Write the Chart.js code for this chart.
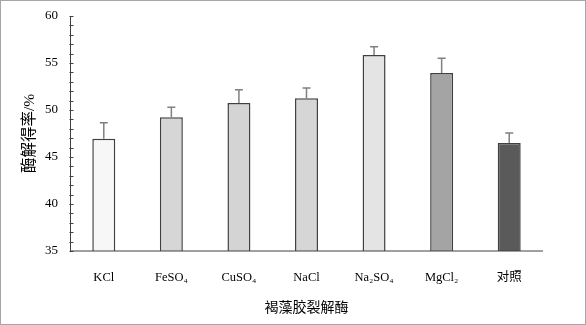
<!DOCTYPE html>
<html><head><meta charset="utf-8">
<script src="https://cdn.jsdelivr.net/npm/chart.js@4/dist/chart.umd.min.js"></script>
<style>html,body{margin:0;padding:0;background:#fff}#wrap{width:586px;height:325px;position:relative}</style>
</head><body><div id="wrap"><canvas id="c" width="586" height="325"></canvas></div>
<script>
const categories = ['KCl', 'FeSO₄', 'CuSO₄', 'NaCl', 'Na₂SO₄', 'MgCl₂', '对照'];
const values = [46.95, 49.22, 50.74, 51.24, 55.85, 53.94, 46.49];
const errors = [1.70, 1.07, 1.42, 1.10, 0.88, 1.56, 1.06];
const barColors = ['#f7f7f7', '#d6d6d6', '#d4d4d4', '#d6d6d6', '#e4e4e4', '#a4a4a4', '#5a5a5a'];
const yTicks = [35, 40, 45, 50, 55, 60];
const yTitle = '酶解得率/%';
const xTitle = '褐藻胶裂解酶';

const FONT = "'Liberation Serif', 'Times New Roman', 'Noto Sans CJK SC', serif";

const errorBars = {
  id: 'errorBars',
  afterDatasetsDraw(chart) {
    const ctx = chart.ctx, y = chart.scales.y;
    const meta = chart.getDatasetMeta(0);
    ctx.save();
    ctx.strokeStyle = '#808080';
    ctx.lineWidth = 1.5;
    meta.data.forEach((bar, i) => {
      const top = y.getPixelForValue(values[i] + errors[i]);
      ctx.beginPath();
      ctx.moveTo(bar.x, bar.y);
      ctx.lineTo(bar.x, top);
      ctx.moveTo(bar.x - 4, top);
      ctx.lineTo(bar.x + 4, top);
      ctx.stroke();
    });
    ctx.restore();
  }
};

const axesAndFrame = {
  id: 'axesAndFrame',
  afterDraw(chart) {
    const ctx = chart.ctx, y = chart.scales.y, a = chart.chartArea;
    ctx.save();
    ctx.strokeStyle = '#404040';
    ctx.lineWidth = 1;
    ctx.beginPath();
    const x0 = Math.round(a.left) + 0.5;
    ctx.moveTo(x0, a.top);
    ctx.lineTo(x0, a.bottom);
    ctx.lineTo(a.right, a.bottom);
    for (let v = y.min; v <= y.max; v += 1) {
      const py = Math.round(y.getPixelForValue(v)) + 0.5;
      ctx.moveTo(x0 - 1, py);
      ctx.lineTo(x0 + 3, py);
    }
    ctx.stroke();
    ctx.strokeStyle = '#a6a6a6';
    ctx.strokeRect(0.5, 0.5, chart.width - 1, chart.height - 1);
    ctx.restore();
  }
};

new Chart(document.getElementById('c'), {
  type: 'bar',
  data: {
    labels: categories,
    datasets: [{
      data: values,
      backgroundColor: barColors,
      borderColor: '#404040',
      borderWidth: 1.5,
      categoryPercentage: 0.34,
      barPercentage: 1
    }]
  },
  options: {
    responsive: false,
    animation: false,
    devicePixelRatio: 1,
    layout: { padding: { top: 16, right: 43, left: 4, bottom: 8 } },
    plugins: { legend: { display: false }, tooltip: { enabled: false } },
    scales: {
      x: {
        afterFit(scale) { scale.height = 66; scale.paddingLeft = 0; scale.paddingRight = 0; },
        grid: { display: false, drawTicks: false },
        border: { display: false },
        ticks: { color: '#000', font: { family: FONT, size: 12.5 }, padding: 19, maxRotation: 0 },
        title: { display: true, text: xTitle, color: '#000', font: { family: FONT, size: 14 }, padding: { top: 0, bottom: 0 } }
      },
      y: {
        min: 35, max: 60,
        afterBuildTicks(scale) { scale.ticks = yTicks.map(v => ({ value: v })); },
        afterFit(scale) { scale.width = 66; scale.paddingTop = 0; scale.paddingBottom = 0; },
        grid: { display: false, drawTicks: false },
        border: { display: false },
        ticks: { color: '#000', font: { family: FONT, size: 13 }, padding: 12 },
        title: { display: true, text: yTitle, color: '#000', font: { family: FONT, size: 15.5 }, padding: { top: 17, bottom: 0 } }
      }
    }
  },
  plugins: [errorBars, axesAndFrame]
});
</script></body></html>
